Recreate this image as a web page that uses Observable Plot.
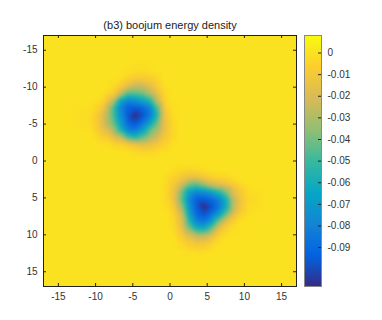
<!DOCTYPE html>
<html><head><meta charset="utf-8">
<script src="https://cdn.jsdelivr.net/npm/d3@7"></script>
<script src="https://cdn.jsdelivr.net/npm/@observablehq/plot@0.6"></script>
<style>
body{margin:0;background:#fff;}
#wrap{position:relative;width:382px;height:320px;}
#wrap svg{position:absolute;top:0;}
</style></head><body><div id="wrap"></div>
<script>
const title = "(b3) boojum energy density";
const axisTicks = [-15, -10, -5, 0, 5, 10, 15];
const axisLimits = [-17, 17];
const colorTicks = [0, -0.01, -0.02, -0.03, -0.04, -0.05, -0.06, -0.07, -0.08, -0.09];
const colorLimits = [-0.108, 0.0081];
const parula = ["#352a87","#0363e1","#1485d4","#06a7c6","#38b99e","#92bf73","#d9ba56","#fcce2e","#f9fb0e"];
const blobCenterX = [-4.7, 4.6];
const blobCenterY = [-6.2, 6.2];
const patchOffsets = [-6, -5, -4, -3, -2, -1, 0, 1, 2, 3, 4, 5, 6];
// energy density around each blob, in units of 1e-3 (rows: y offset, cols: x offset)
const blob1 = [
  [0,0,0,0,0,-1,-2,-2,-1,0,0,0,0],
  [0,0,0,0,-1,-5,-9,-9,-7,-3,0,0,0],
  [0,0,0,-2,-7,-16,-23,-23,-16,-7,-1,0,0],
  [0,0,-2,-7,-22,-44,-44,-40,-28,-14,-3,0,0],
  [0,-1,-7,-22,-62,-78,-74,-66,-54,-23,-5,0,0],
  [-1,-5,-16,-44,-78,-94,-95,-91,-80,-45,-8,-1,0],
  [-2,-9,-23,-44,-74,-95,-108,-98,-84,-53,-12,-2,0],
  [-2,-9,-23,-40,-66,-91,-98,-87,-68,-42,-15,-4,0],
  [-1,-7,-16,-28,-54,-80,-84,-68,-44,-31,-14,-4,0],
  [0,-3,-7,-14,-23,-45,-53,-42,-31,-21,-10,-3,0],
  [0,0,-1,-3,-5,-8,-12,-15,-14,-10,-5,-1,0],
  [0,0,0,0,0,-1,-2,-4,-4,-3,-1,0,0],
  [0,0,0,0,0,0,0,0,0,0,0,0,0]
];
const blob2 = [
  [0,0,0,0,0,0,0,0,0,0,0,0,0],
  [0,0,-2,-3,-4,-3,-2,0,0,0,0,0,0],
  [0,-2,-6,-11,-15,-15,-10,-6,-4,-3,-1,0,0],
  [0,-3,-11,-23,-41,-45,-34,-23,-18,-14,-8,-3,0],
  [0,-4,-15,-41,-68,-78,-74,-66,-54,-37,-17,-8,-2],
  [0,-3,-15,-45,-78,-94,-95,-91,-80,-57,-25,-11,-3],
  [0,-2,-10,-34,-74,-95,-108,-98,-84,-58,-25,-10,-2],
  [0,0,-6,-23,-66,-91,-98,-87,-68,-40,-16,-5,-1],
  [0,0,-4,-18,-54,-80,-84,-68,-37,-15,-6,-1,0],
  [0,0,-3,-14,-37,-57,-58,-40,-15,-5,-1,0,0],
  [0,0,-1,-8,-17,-25,-25,-16,-6,-1,0,0,0],
  [0,0,0,-3,-8,-11,-10,-5,-1,0,0,0,0],
  [0,0,0,0,-2,-3,-2,-1,0,0,0,0,0]
];
const backgroundValue = 0;
const backgroundCoords = [-17, -14, -11, -8, -5, -2, 1, 4, 7, 10, 13, 17];

const pts = [];
[blob1, blob2].forEach((rows, b) => rows.forEach((row, i) => row.forEach((v, j) =>
  pts.push({x: blobCenterX[b] + patchOffsets[j], y: blobCenterY[b] + patchOffsets[i], v: v / 1000}))));
for (const x of backgroundCoords) for (const y of backgroundCoords) {
  const inside = blobCenterX.some((cx, b) => Math.abs(x - cx) < 6.8 && Math.abs(y - blobCenterY[b]) < 6.8);
  if (!inside) pts.push({x, y, v: backgroundValue});
}

const font = "'Liberation Sans', Helvetica, Arial, sans-serif";
const colorScale = {type: "linear", domain: colorLimits, interpolate: d3.piecewise(d3.interpolateRgb, parula)};
const fmt = d => String(d);

const main = Plot.plot({
  width: 300, height: 320,
  marginLeft: 43, marginRight: 4, marginTop: 35, marginBottom: 34,
  style: {fontFamily: font, fontSize: "10px", color: "#333", background: "transparent"},
  x: {domain: axisLimits, ticks: axisTicks, tickFormat: fmt, tickSize: 0, tickPadding: 6, label: null},
  y: {domain: axisLimits, reverse: true, ticks: axisTicks, tickFormat: fmt, tickSize: 0, tickPadding: 6, label: null},
  color: colorScale,
  marks: [
    Plot.raster(pts, {x: "x", y: "y", fill: "v", interpolate: "barycentric",
      x1: axisLimits[0], x2: axisLimits[1], y1: axisLimits[0], y2: axisLimits[1], blur: 1}),
    Plot.tickX(axisTicks, {x: d => d, insetTop: 248, stroke: "#222"}),
    Plot.tickX(axisTicks, {x: d => d, insetBottom: 248, stroke: "#222"}),
    Plot.tickY(axisTicks, {y: d => d, insetLeft: 250, stroke: "#222"}),
    Plot.tickY(axisTicks, {y: d => d, insetRight: 250, stroke: "#222"}),
    Plot.frame({stroke: "#222"}),
    Plot.text([title], {frameAnchor: "top", dy: -7, lineAnchor: "bottom", fontSize: 11, fill: "#222"})
  ]
});
main.style.left = "0px";

const bar = Plot.plot({
  width: 82, height: 320,
  marginLeft: 4, marginRight: 61, marginTop: 35, marginBottom: 34,
  style: {fontFamily: font, fontSize: "10px", color: "#333", background: "transparent"},
  x: {domain: [0, 1], axis: null},
  y: {domain: colorLimits, ticks: colorTicks, tickFormat: fmt, tickSize: 0, tickPadding: 6, axis: "right", label: null},
  color: colorScale,
  marks: [
    Plot.raster({x1: 0, x2: 1, y1: colorLimits[0], y2: colorLimits[1], fill: (x, y) => y}),
    Plot.tickY(colorTicks, {y: d => d, insetLeft: 14, stroke: "#222"}),
    Plot.frame({stroke: "#888"})
  ]
});
bar.style.left = "300px";

document.getElementById("wrap").append(main, bar);
</script></body></html>
